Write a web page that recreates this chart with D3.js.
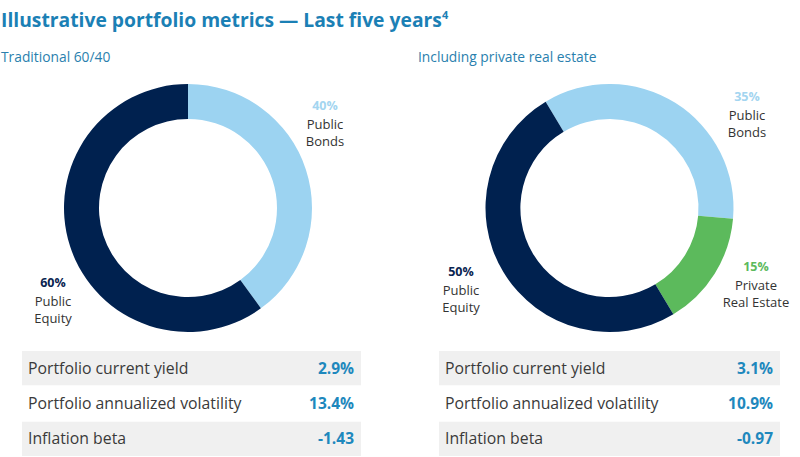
<!DOCTYPE html>
<html><head><meta charset="utf-8">
<script src="https://cdn.jsdelivr.net/npm/d3@7/dist/d3.min.js"></script>
<style>
html,body{margin:0;padding:0;background:#fff;}
svg{display:block;font-family:"Open Sans","Noto Sans",sans-serif;}
</style></head>
<body><svg id="c" width="800" height="457"></svg>
<script>
const titleText = "Illustrative portfolio metrics — Last five years";
const titleSup = "4";
const panelTitles = ["Traditional 60/40", "Including private real estate"];

const leftCategories = ["Public Bonds", "Public Equity"];
const leftValues = [40, 60];
const rightCategories = ["Public Bonds", "Private Real Estate", "Public Equity"];
const rightValues = [35, 15, 50];

const metricLabels = ["Portfolio current yield", "Portfolio annualized volatility", "Inflation beta"];
const leftMetrics = ["2.9%", "13.4%", "-1.43"];
const rightMetrics = ["3.1%", "10.9%", "-0.97"];

const colors = {"Public Bonds":"#9cd3f1","Public Equity":"#00214f","Private Real Estate":"#5cba5c"};
const pctColors = {"Public Bonds":"#a3d5f0","Public Equity":"#0a2450","Private Real Estate":"#5cba5c"};
const accent = "#1b80b5";

const svg = d3.select("#c");

// Title
const t = svg.append("text").attr("x", 1).attr("y", 27)
  .attr("fill", accent).attr("font-size", 19.3).attr("font-weight", 700)
  .text(titleText);
t.append("tspan").attr("font-size", 11).attr("dy", -8).text(titleSup);

panelTitles.forEach((p, i) => {
  svg.append("text").attr("x", i ? 418 : 1).attr("y", 62)
    .attr("fill", "#2a7fae").attr("font-size", 13.8).text(p);
});

function donut(cx, cy, cats, vals, startDeg, labels) {
  const data = cats.map((c, i) => ({cat: c, v: vals[i]}));
  const start = startDeg * Math.PI / 180;
  const pie = d3.pie().sort(null).value(d => d.v).startAngle(start).endAngle(start + 2 * Math.PI);
  const arc = d3.arc().innerRadius(89).outerRadius(124);
  const g = svg.append("g").attr("transform", `translate(${cx},${cy})`);
  g.selectAll("path").data(pie(data)).join("path")
    .attr("d", arc).attr("fill", d => colors[d.data.cat]);
  labels.forEach((l, i) => {
    const d = data[i];
    const lg = svg.append("g").attr("text-anchor", "middle");
    lg.append("text").attr("x", l.x).attr("y", l.y).attr("font-size", 12.5).attr("font-weight", 700)
      .attr("fill", pctColors[d.cat]).text(d.v + "%");
    l.lines.forEach((ln, j) => {
      lg.append("text").attr("x", l.x).attr("y", l.y + 19 + j * 16.5).attr("font-size", 13)
        .attr("fill", "#333").text(ln);
    });
  });
}

donut(188, 208, leftCategories, leftValues, 0, [
  {x: 325, y: 110, lines: ["Public", "Bonds"]},
  {x: 53, y: 287, lines: ["Public", "Equity"]}
]);
donut(609.5, 208, rightCategories, rightValues, -31, [
  {x: 747, y: 101, lines: ["Public", "Bonds"]},
  {x: 756, y: 271, lines: ["Private", "Real Estate"]},
  {x: 461, y: 276, lines: ["Public", "Equity"]}
]);

function table(x0, x1, vals) {
  const y = d3.scaleBand().domain(metricLabels).range([351, 456]).paddingInner(0.03);
  const g = svg.append("g");
  metricLabels.forEach((m, i) => {
    if (i % 2 === 0) {
      g.append("rect").attr("x", x0).attr("y", y(m)).attr("width", x1 - x0)
        .attr("height", y.bandwidth()).attr("fill", "#f0f0f0");
    }
    const cy = y(m) + y.bandwidth() / 2 + 5.5;
    g.append("text").attr("x", x0 + 6).attr("y", cy).attr("font-size", 15.8)
      .attr("fill", "#3a3a3a").text(m);
    g.append("text").attr("x", x1 - 7).attr("y", cy).attr("font-size", 15.5).attr("font-weight", 700)
      .attr("text-anchor", "end").attr("fill", "#1e88bd").text(vals[i]);
  });
}
table(22, 361, leftMetrics);
table(439, 780, rightMetrics);
</script></body></html>
